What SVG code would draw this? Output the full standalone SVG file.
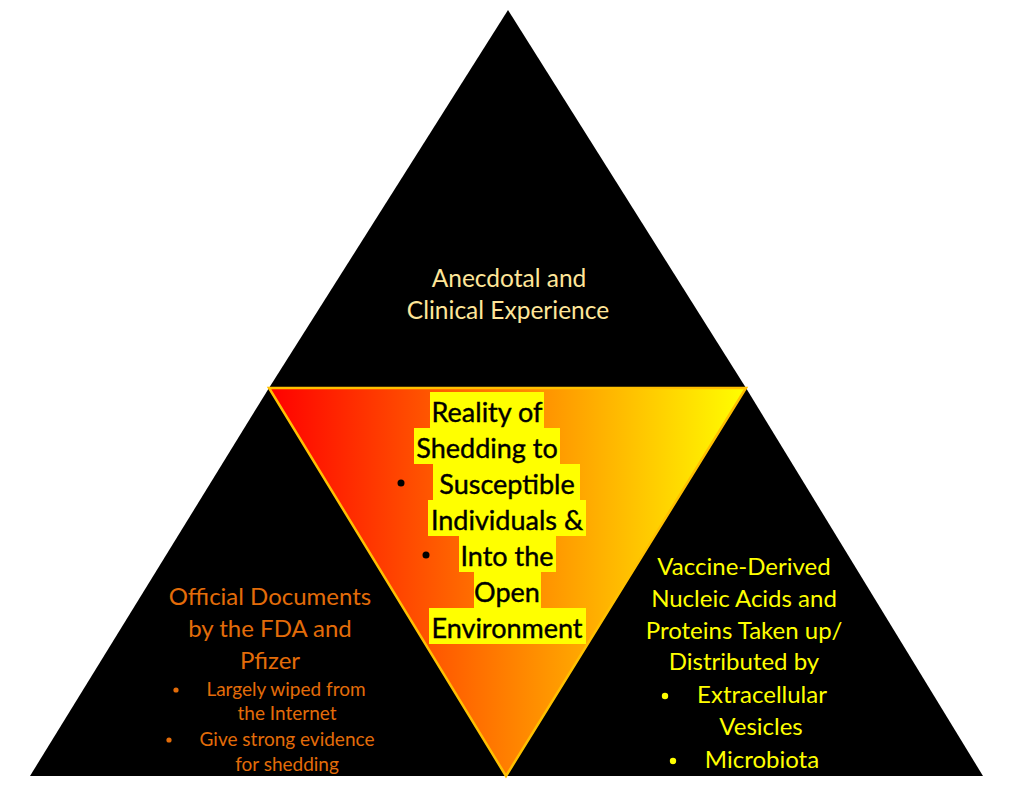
<svg xmlns="http://www.w3.org/2000/svg" width="1026" height="791" viewBox="0 0 1026 791">
<defs>
<linearGradient id="grad" x1="269" y1="0" x2="746" y2="0" gradientUnits="userSpaceOnUse">
<stop offset="0" stop-color="#FF0000"/>
<stop offset="1" stop-color="#FFFF00"/>
</linearGradient>
</defs>
<style>
text{font-family:Lato,"Open Sans","Liberation Sans",sans-serif;text-anchor:middle}
.top{fill:#FFE699;font-size:24.5px}
.left{fill:#E36C09;font-size:24px}
.lefts{fill:#E36C09;font-size:19px}
.right{fill:#FFFF00;font-size:24px}
.ctr{fill:#000;font-size:27px;stroke:#000;stroke-width:0.4}
.hl{fill:#FFFF00}
.dot{fill:#000}
</style>
<rect width="1026" height="791" fill="#FFFFFF"/>
<g id="outer-triangles">
<polygon points="508,10 269,388 746,388" fill="#000"/>
<polygon points="269,388 30,776 506,776" fill="#000"/>
<polygon points="746,388 506,776 983,776" fill="#000"/>
</g>
<g id="center">
<polygon points="269,388 746,388 506,776" fill="url(#grad)" stroke="#FFC000" stroke-width="2.5" stroke-linejoin="miter"/>
<rect class="hl" x="430" y="392" width="114" height="36"/>
<rect class="hl" x="414" y="428" width="146" height="36"/>
<rect class="hl" x="433" y="464" width="147" height="36"/>
<rect class="hl" x="428" y="500" width="158" height="36"/>
<rect class="hl" x="459" y="536" width="97" height="36"/>
<rect class="hl" x="474" y="572" width="67" height="36"/>
<rect class="hl" x="429" y="608" width="157" height="36"/>
<circle class="dot" cx="401" cy="483" r="3.5"/>
<circle class="dot" cx="426" cy="555" r="3.5"/>
<text class="ctr" x="487" y="422">Reality of</text>
<text class="ctr" x="487" y="458">Shedding to</text>
<text class="ctr" x="507" y="494">Susceptible</text>
<text class="ctr" x="507" y="530">Individuals &amp;</text>
<text class="ctr" x="507" y="566">Into the</text>
<text class="ctr" x="507" y="602">Open</text>
<text class="ctr" x="507" y="638">Environment</text>
</g>
<g id="top-node">
<text class="top" x="509" y="287">Anecdotal and</text>
<text class="top" x="508" y="319">Clinical Experience</text>
</g>
<g id="left-node">
<text class="left" x="270" y="605">Official Documents</text>
<text class="left" x="270" y="637">by the FDA and</text>
<text class="left" x="270" y="669">Pfizer</text>
<circle cx="176" cy="690" r="2.6" fill="#E36C09"/>
<circle cx="169" cy="740" r="2.6" fill="#E36C09"/>
<text class="lefts" x="286" y="696">Largely wiped from</text>
<text class="lefts" x="287" y="720">the Internet</text>
<text class="lefts" x="287" y="746">Give strong evidence</text>
<text class="lefts" x="287" y="771">for shedding</text>
</g>
<g id="right-node">
<text class="right" x="744" y="575">Vaccine-Derived</text>
<text class="right" x="744" y="607">Nucleic Acids and</text>
<text class="right" x="744" y="639">Proteins Taken up/</text>
<text class="right" x="744" y="670">Distributed by</text>
<circle cx="665" cy="696" r="3.2" fill="#FFFF00"/>
<circle cx="673" cy="761" r="3.2" fill="#FFFF00"/>
<text class="right" x="762" y="703">Extracellular</text>
<text class="right" x="761" y="735">Vesicles</text>
<text class="right" x="762" y="768">Microbiota</text>
</g>
<g id="connectors"/>
</svg>
